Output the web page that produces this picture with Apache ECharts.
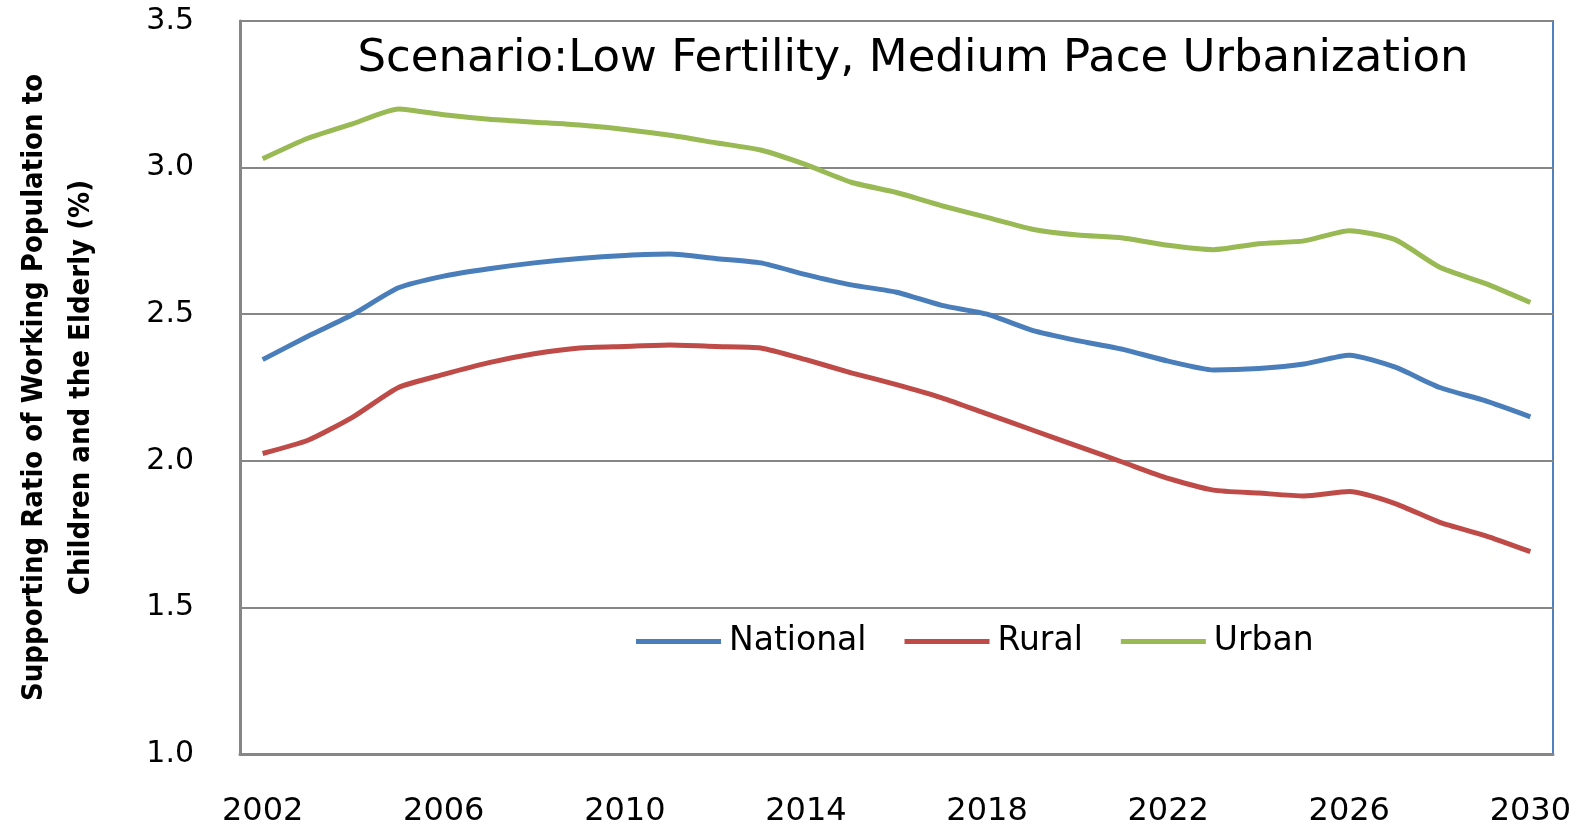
<!DOCTYPE html>
<html>
<head>
<meta charset="utf-8">
<script src="https://cdn.jsdelivr.net/npm/echarts@6/dist/echarts.min.js"></script>
<style>
  html, body { margin: 0; padding: 0; background: #fff; }
  #myEcharts { width: 1591px; height: 826px; }
</style>
</head>
<body>
<div id="myEcharts"></div>
<script>
const years = []
for (let y = 2002; y <= 2030; y++) years.push(String(y))

const national = [2.345, 2.425, 2.50, 2.59, 2.63, 2.655, 2.675, 2.69, 2.70, 2.705, 2.69, 2.675, 2.635, 2.60, 2.575,
  2.53, 2.50, 2.445, 2.41, 2.38, 2.34, 2.31, 2.315, 2.33, 2.36, 2.32, 2.25, 2.205, 2.15]
const rural = [2.025, 2.07, 2.15, 2.25, 2.295, 2.335, 2.365, 2.385, 2.39, 2.395, 2.39, 2.385, 2.345, 2.30, 2.26,
  2.215, 2.16, 2.105, 2.05, 1.995, 1.94, 1.90, 1.89, 1.88, 1.895, 1.855, 1.79, 1.745, 1.69]
const urban = [3.03, 3.10, 3.15, 3.20, 3.18, 3.165, 3.155, 3.145, 3.13, 3.11, 3.085, 3.06, 3.01, 2.95, 2.915,
  2.87, 2.83, 2.79, 2.77, 2.76, 2.735, 2.72, 2.74, 2.75, 2.785, 2.755, 2.66, 2.605, 2.54]

const myChart = echarts.init(document.getElementById('myEcharts'))
myChart.setOption({
  animation: false,
  title: {
    text: 'Scenario:Low Fertility, Medium Pace Urbanization',
    left: 908,
    top: 32,
    textAlign: 'center',
    textStyle: {
      fontFamily: 'DejaVu Sans',
      fontSize: 45,
      fontWeight: 'normal',
      color: '#000'
    }
  },
  legend: {
    left: 636,
    top: 625,
    padding: 0,
    itemWidth: 85,
    itemHeight: 5,
    itemGap: 38,
    icon: 'rect',
    textStyle: {
      fontFamily: 'DejaVu Sans',
      fontSize: 33,
      color: '#000',
      padding: [0, 0, 0, 3]
    },
    data: ['National', 'Rural', 'Urban']
  },
  grid: {
    left: 240,
    right: 38,
    top: 21,
    bottom: 72,
    outerBoundsMode: 'none',
    containLabel: false,
    show: true,
    borderColor: '#4f81bd',
    borderWidth: 2
  },
  xAxis: {
    type: 'category',
    data: years,
    boundaryGap: true,
    axisLine: { lineStyle: { color: '#868686', width: 3 } },
    axisTick: { show: false },
    axisLabel: {
      interval: 3,
      margin: 42,
      fontFamily: 'DejaVu Sans',
      fontSize: 32,
      color: '#000'
    }
  },
  yAxis: {
    type: 'value',
    min: 1,
    max: 3.5,
    interval: 0.5,
    axisLine: { show: true, lineStyle: { color: '#868686', width: 3 } },
    axisTick: { show: false },
    splitLine: { lineStyle: { color: '#868686', width: 2 } },
    axisLabel: {
      margin: 46,
      fontFamily: 'DejaVu Sans',
      fontSize: 30,
      color: '#000',
      formatter: v => v.toFixed(1)
    },
    name: 'Supporting Ratio of Working Population to\nChildren and the Elderly (%)',
    nameLocation: 'middle',
    nameRotate: 90,
    nameGap: 135,
    nameTextStyle: {
      fontFamily: 'DejaVu Sans Condensed',
      fontWeight: 'bold',
      fontSize: 29,
      lineHeight: 47,
      color: '#000'
    }
  },
  series: [
    {
      name: 'National',
      type: 'line',
      data: national,
      showSymbol: false,
      smooth: 0.2,
      itemStyle: { color: '#4a7ebb' },
      lineStyle: { color: '#4a7ebb', width: 5 }
    },
    {
      name: 'Rural',
      type: 'line',
      data: rural,
      showSymbol: false,
      smooth: 0.2,
      itemStyle: { color: '#be4b48' },
      lineStyle: { color: '#be4b48', width: 5 }
    },
    {
      name: 'Urban',
      type: 'line',
      data: urban,
      showSymbol: false,
      smooth: 0.2,
      itemStyle: { color: '#98b954' },
      lineStyle: { color: '#98b954', width: 5 }
    }
  ]
})
window.addEventListener('resize', () => {
  myChart.resize()
})
</script>
</body>
</html>
